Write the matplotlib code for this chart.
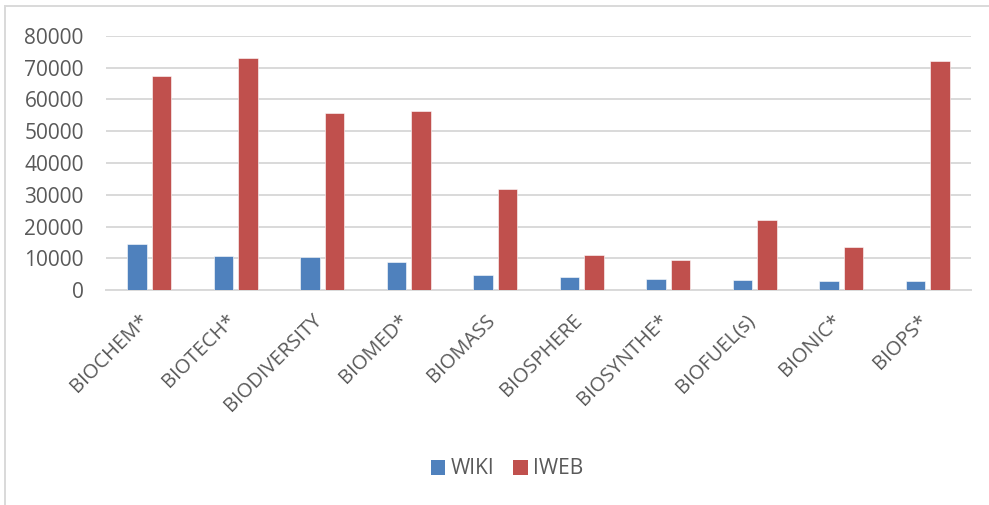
import matplotlib
matplotlib.use("Agg")
import matplotlib.pyplot as plt
import matplotlib.transforms as mtransforms
import numpy as np
from matplotlib.patches import Rectangle, Patch

categories = ["BIOCHEM*", "BIOTECH*", "BIODIVERSITY", "BIOMED*", "BIOMASS",
              "BIOSPHERE", "BIOSYNTHE*", "BIOFUEL(s)", "BIONIC*", "BIOPS*"]
wiki = [14450, 10700, 10400, 8800, 4800, 4200, 3600, 3250, 3050, 2950]
iweb = [67200, 73100, 55800, 56300, 31700, 11100, 9550, 22200, 13700, 71950]
yticks = [0, 10000, 20000, 30000, 40000, 50000, 60000, 70000, 80000]

plt.rcParams['font.family'] = ['Open Sans', 'DejaVu Sans']
blue = "#4F81BD"
red = "#C0504D"
grid = "#D9D9D9"
txt = "#595959"

fig = plt.figure(figsize=(9.89, 5.05), dpi=100)
ax = fig.add_axes([106/989, 1 - 290.3/505, 865/989, (290.3 - 35.7)/505])

x = np.arange(len(categories))
w = 0.225
off = 0.1415
ax.bar(x - off, wiki, width=w, color=blue, edgecolor="white", linewidth=0.4, zorder=3)
ax.bar(x + off, iweb, width=w, color=red, edgecolor="white", linewidth=0.4, zorder=3)

ax.set_xlim(-0.5, len(categories) - 0.5)
ax.set_ylim(0, 80000)
ax.set_yticks(yticks)
ax.set_yticklabels([str(v) for v in yticks])
ax.yaxis.grid(True, color=grid, linewidth=1.4, zorder=0)
ax.set_axisbelow(True)
for s in ["top", "right", "left"]:
    ax.spines[s].set_visible(False)
ax.spines["bottom"].set_color(grid)
ax.spines["bottom"].set_linewidth(1.4)
ax.tick_params(axis="y", length=0, pad=16, labelsize=15, labelcolor=txt)
ax.tick_params(axis="x", length=0, pad=8, labelsize=14.5, labelcolor=txt)
ax.set_xticks(x)
ax.set_xticklabels(categories, rotation=45, ha="right", rotation_mode="anchor")
shift = mtransforms.ScaledTranslation(-10/100, -9/100, fig.dpi_scale_trans)
for lab in ax.get_xticklabels():
    lab.set_transform(lab.get_transform() + shift)

handles = [Patch(facecolor=blue, label="WIKI"), Patch(facecolor=red, label="IWEB")]
fig.legend(handles=handles, loc="center", bbox_to_anchor=(507/989, 1 - 469/505), ncol=2,
           frameon=False, fontsize=15, labelcolor=txt, handlelength=0.7, handleheight=0.7,
           handletextpad=0.25, columnspacing=0.9)

fig.patches.append(Rectangle((5/989, -0.1), 1.2, 1 - 6/505 + 0.1, transform=fig.transFigure,
                             fill=False, edgecolor=grid, linewidth=1.4, clip_on=False))

fig.savefig("out.png", dpi=100, facecolor="white")
